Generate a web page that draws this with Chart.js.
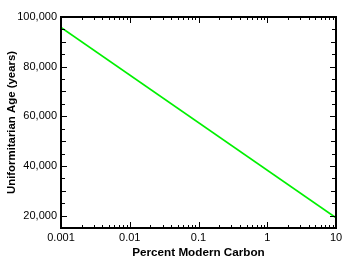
<!DOCTYPE html>
<html>
<head>
<meta charset="utf-8">
<script src="https://cdn.jsdelivr.net/npm/chart.js@4.4.1/dist/chart.umd.min.js"></script>
<style>
  html, body { margin: 0; padding: 0; background: #fff; }
  #wrap { width: 350px; height: 260px; }
</style>
</head>
<body>
<div id="wrap"><canvas id="c"></canvas></div>
<script>
// data
var pmcValues = [0.001, 10];
var ageValues = [95800, 19100];

// axis ticks
var xMajorTicks = [0.001, 0.01, 0.1, 1, 10];
var xTickLabels = ["0.001", "0.01", "0.1", "1", "10"];
var yMajorTicks = [20000, 40000, 60000, 80000, 100000];
var yMin = 15000, yMax = 100000;

var fontFam = "'Liberation Sans', Arial, sans-serif";

// inward ticks + box, drawn through the scales
var boxTicks = {
    id: 'boxTicks',
    afterDraw: function(chart) {
        var ctx = chart.ctx, a = chart.chartArea;
        var xs = chart.scales.x, ys = chart.scales.y;
        ctx.save();
        ctx.strokeStyle = '#000';
        ctx.lineWidth = 1;
        ctx.beginPath();
        // x ticks (major + minor)
        for (var d = 0.001; d < 10; d *= 10) {
            for (var m = 1; m < 10; m++) {
                var v = d * m;
                var px = Math.round(xs.getPixelForValue(v)) + 0.5;
                var len = (m == 1) ? 6 : 3;
                ctx.moveTo(px, a.bottom); ctx.lineTo(px, a.bottom - len);
                ctx.moveTo(px, a.top); ctx.lineTo(px, a.top + len);
            }
        }
        // y ticks every 5000
        for (var y = yMin + 5000; y < yMax; y += 5000) {
            var py = Math.round(ys.getPixelForValue(y)) + 0.5;
            var l = (y % 20000 == 0) ? 6 : ((y % 10000 == 0) ? 5 : 4);
            ctx.moveTo(a.left, py); ctx.lineTo(a.left + l, py);
            ctx.moveTo(a.right, py); ctx.lineTo(a.right - l, py);
        }
        ctx.stroke();
        ctx.lineWidth = 2;
        ctx.strokeRect(a.left, a.top, a.right - a.left, a.bottom - a.top);
        ctx.restore();
    }
};

var ctx = document.getElementById('c').getContext('2d');
var chart = new Chart(ctx, {
    type: 'line',
    data: {
        datasets: [{
            data: pmcValues.map(function(v, i) { return {x: v, y: ageValues[i]}; }),
            borderColor: 'rgb(0, 240, 0)',
            borderWidth: 1.6,
            pointRadius: 0,
            fill: false
        }]
    },
    options: {
        responsive: true,
        maintainAspectRatio: false,
        animation: false,
        layout: { padding: { left: 0, right: 14, top: 17, bottom: 0 } },
        plugins: { legend: { display: false }, tooltip: { enabled: false } },
        scales: {
            x: {
                type: 'logarithmic',
                min: 0.001, max: 10,
                afterBuildTicks: function(s) {
                    s.ticks = xMajorTicks.map(function(v) { return {value: v}; });
                },
                afterFit: function(s) { s.height = 32; },
                grid: { display: false, drawTicks: false },
                border: { display: false },
                ticks: {
                    autoSkip: false, maxRotation: 0, padding: 3,
                    color: '#000',
                    font: { family: fontFam, size: 11 },
                    callback: function(v, i) { return xTickLabels[i]; }
                },
                title: {
                    display: true, text: 'Percent Modern Carbon', color: '#000',
                    font: { family: fontFam, size: 11.7, weight: 'bold' },
                    padding: { top: 0, bottom: 0 }
                }
            },
            y: {
                min: yMin, max: yMax,
                afterBuildTicks: function(s) {
                    s.ticks = yMajorTicks.map(function(v) { return {value: v}; });
                },
                afterFit: function(s) { s.width = 61; },
                grid: { display: false, drawTicks: false },
                border: { display: false },
                ticks: {
                    padding: 4, color: '#000',
                    font: { family: fontFam, size: 11 },
                    callback: function(v) { return v.toLocaleString('en-US'); }
                },
                title: {
                    display: true, text: 'Uniformitarian Age (years)', color: '#000',
                    font: { family: fontFam, size: 11.4, weight: 'bold' },
                    padding: { top: 5, bottom: 0 }
                }
            }
        }
    },
    plugins: [boxTicks]
});
</script>
</body>
</html>
